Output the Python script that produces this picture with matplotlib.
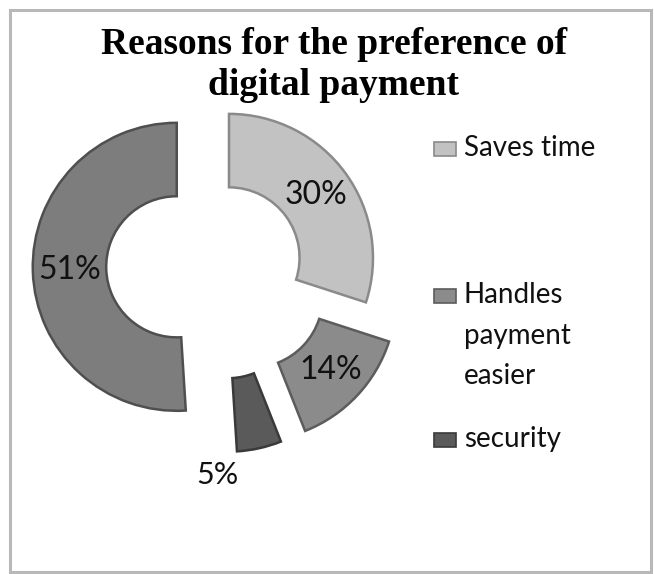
import matplotlib
matplotlib.use("Agg")
import matplotlib.pyplot as plt
from matplotlib.patches import Rectangle

# shares of respondents by reason (last slice has no legend entry)
reasons = ["Saves time", "Handles\npayment\neasier", "security", ""]
shares = [30, 14, 5, 51]
colors = ["#c2c2c2", "#8b8b8b", "#5a5a5a", "#7d7d7d"]
edges = ["#8a8a8a", "#5c5c5c", "#3a3a3a", "#4f4f4f"]
explode = [0.09, 0.32, 0.30, 0.29]

W, H = 654, 574
fig = plt.figure(figsize=(W / 100, H / 100), dpi=100)
fig.patch.set_facecolor("white")


def fx(x):
    return x / W


def fy(y):
    return 1 - y / H


# outer frame
fig.add_artist(Rectangle((fx(10), fy(572)), fx(641), 562 / H, transform=fig.transFigure,
                         fill=False, edgecolor="#b8b8b8", linewidth=2.2))

fig.text(fx(334), fy(65), "Reasons for the preference of\ndigital payment", ha="center", va="center",
         fontsize=27, fontweight="bold", family="Liberation Serif", linespacing=1.2)

# donut: one data unit = 144 px, centre at (218.5, 265.5)
L = 1.7
side = 2 * L * 144
ax = fig.add_axes([fx(218.5 - side / 2), fy(265.5 + side / 2), side / W, side / H])
wedges, texts, autotexts = ax.pie(shares, explode=explode, colors=colors, startangle=90,
                                  counterclock=False, autopct="%d%%", pctdistance=0.745,
                                  wedgeprops=dict(width=0.51, linewidth=1.8),
                                  textprops=dict(fontsize=23, family="Lato", color="#111111"))
for w, ec in zip(wedges, edges):
    w.set_edgecolor(ec)
# the small slice gets its label below the ring
cx, cy = wedges[2].center
autotexts[2].set_position((cx - 0.07, cy - 1.16))
autotexts[2].set_fontsize(22)
ax.set_xlim(-L, L)
ax.set_ylim(-L, L)
ax.set_aspect("equal")
ax.axis("off")

# legend
legend_top = [135, 282, 426]
for lab, col, ec, top in zip(reasons[:3], colors, edges, legend_top):
    fig.add_artist(Rectangle((fx(434), fy(top + 21)), 22 / W, 14 / H, transform=fig.transFigure,
                             facecolor=col, edgecolor=ec, linewidth=1.2))
    fig.text(fx(464), fy(top), lab, ha="left", va="top", fontsize=20, family="Lato",
             color="#111111", linespacing=1.7)

fig.savefig("out.png", dpi=100)
